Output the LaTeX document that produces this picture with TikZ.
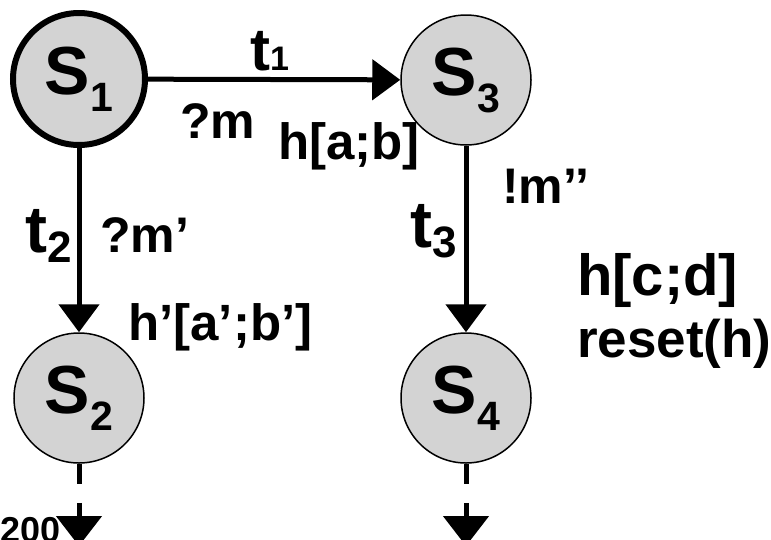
\documentclass[tikz,border=0pt]{standalone}
\usepackage{fontspec}
\setmainfont{Liberation Sans}
\usetikzlibrary{arrows.meta}
\definecolor{stategray}{RGB}{211,211,211}
\newcommand{\fsize}[1]{\fontsize{#1}{#1}\selectfont}
\newcommand{\ssub}[1]{\raisebox{-17pt}{\fsize{41}#1}}
\newcommand{\tsub}[1]{\raisebox{-10pt}{\fsize{44}#1}}
\begin{document}
\begin{tikzpicture}[x=1pt, y=-1pt,
        state/.style={draw, circle, fill=stategray, line width=1.5pt, minimum size=130pt, inner sep=0pt, font=\bfseries\fsize{68}},
        trans/.style={line width=5pt, -{Triangle[length=28pt, width=40pt]}},
        cont/.style={line width=5pt, dash pattern=on 20pt off 19pt, -{Triangle[length=30pt, width=45pt]}},
        lbl/.style={anchor=base west, inner sep=0pt, font=\bfseries\fsize{50}}]
        \useasboundingbox (0, 0) rectangle (771, 539);

        % States
        \node[state, line width=6pt, minimum size=132pt] (s1) at (79, 79) {S\ssub{1}};
        \node[state] (s3) at (466, 80) {S\ssub{3}};
        \node[state] (s2) at (79, 398) {S\ssub{2}};
        \node[state] (s4) at (466, 398) {S\ssub{4}};

        % Free ends below
        \coordinate (e2) at (79, 546);
        \coordinate (e4) at (466, 546);

        % Transitions
        \draw[trans] (s1) -- (s3);
        \draw[trans] (s1) -- (s2);
        \draw[trans] (s3) -- (s4);
        \draw[cont] (s2.south) -- (e2);
        \draw[cont] (s4.south) -- (e4);

        % Labels
        \node[lbl, font=\bfseries\fsize{60}] (t1) at (250, 70) {t{\fsize{34}1}};
        \node[lbl] (m1) at (180, 138) {?m};
        \node[lbl, font=\bfseries\fsize{51}] (h1) at (278, 159) {h[a;b]};
        \node[lbl, font=\bfseries\fsize{66}] (t2) at (25, 252) {t\tsub{2}};
        \node[lbl] (m2) at (100, 252) {?m’};
        \node[lbl, font=\bfseries\fsize{51}] (h2) at (128, 340) {h’[a’;b’]};
        \node[lbl] (m3) at (502, 203) {!m’’};
        \node[lbl, font=\bfseries\fsize{66}] (t3) at (410, 247) {t\tsub{3}};
        \node[lbl, font=\bfseries\fsize{58}] (h3) at (577, 295) {h[c;d]};
        \node[lbl, font=\bfseries\fsize{53}] (r3) at (577, 357) {reset(h)};
        \node[lbl, font=\bfseries\fsize{36}] (yr) at (0, 542) {200};
    \end{tikzpicture}
\end{document}
